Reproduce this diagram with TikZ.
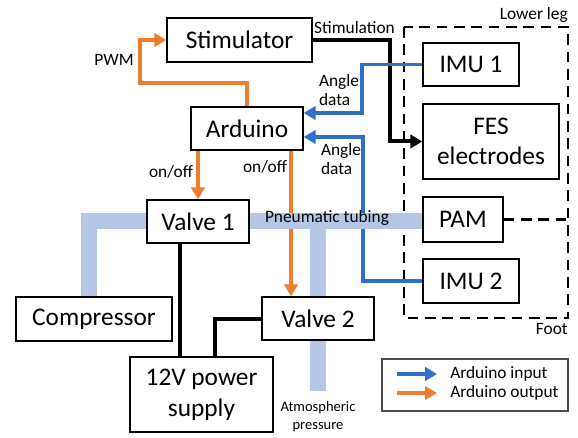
\documentclass[tikz,border=0pt]{standalone}
\usepackage{fontspec}
\setmainfont{Carlito}
\usetikzlibrary{arrows.meta,positioning,calc}
\definecolor{ardorange}{RGB}{237,125,49}
\definecolor{ardblue}{RGB}{47,111,200}
\definecolor{tubeblue}{RGB}{180,199,231}
\newcommand\boxfont{\fontsize{19}{23}\selectfont}
\newcommand\labelfont{\fontsize{13}{14.5}\selectfont}
\newcommand\notefont{\fontsize{10.9}{13.5}\selectfont}

\begin{document}
\begin{tikzpicture}[x=0.75pt,y=-0.75pt,>={Triangle[length=9pt,width=10pt]},
  block/.style={draw,line width=1pt,fill=white,inner sep=0pt,align=center,font=\boxfont},
  dims/.style 2 args={minimum width=#1*0.75pt,minimum height=#2*0.75pt},
  outsig/.style={ardorange,line width=3pt,->},
  insig/.style={ardblue,line width=2.8pt,->},
  wire/.style={black,line width=3pt},
  tube/.style={tubeblue,line width=12pt},
  limb/.style={line width=1.8pt,dash pattern=on 8pt off 5pt},
  lbl/.style={font=\labelfont,align=center,inner sep=0pt}]
  \useasboundingbox (0,0) rectangle (578,438);
  % blocks
  \node[block,dims={145}{44}] (stim) at (239.5,40) {Stimulator};
  \node[block,dims={112}{43}] (ard) at (247,128.5) {Arduino};
  \node[block,dims={102}{43}] (valve1) at (198,221.5) {Valve 1};
  \node[block,dims={156}{44}] (comp) at (94,319) {Compressor};
  \node[block,dims={143}{75}] (psu) at (201.5,394.5) {12V power\\supply};
  \node[block,dims={112}{43}] (valve2) at (318,318.5) {Valve 2};
  \node[block,dims={96}{43}] (imu1) at (471,64.5) {IMU 1};
  \node[block,dims={136}{75}] (fes) at (491,141.5) {FES\\electrodes};
  \node[block,dims={80}{45}] (pam) at (463,219.5) {PAM};
  \node[block,dims={96}{44}] (imu2) at (471,281) {IMU 2};
  % lower leg / foot
  \coordinate (legr) at (568,0);
  \draw[limb] (404,27) rectangle (568,318);
  \draw[limb] (pam.east) -- (pam.east -| legr);
  \node[lbl,anchor=east] (leg) at (568,15) {Lower leg};
  \node[lbl,anchor=east] (foot) at (568,329) {Foot};
  % arduino output
  \coordinate (pwm) at (140,83);
  \draw[outsig] (ard.north) |- (pwm) |- (stim.west);
  \node[lbl] (pwmlbl) at (114,60) {PWM};
  \draw[outsig] (valve1.north |- ard.south) -- (valve1.north);
  \node[lbl] (onoff1) at (171,172) {on/off};
  \coordinate (out2) at (291,0);
  \draw[outsig] (ard.south -| out2) -- (valve2.north -| out2);
  \node[lbl] (onoff2) at (265,167) {on/off};
  % stimulation
  \coordinate (stimx) at (390,0);
  \draw[wire,->] (stim.east) -| (stimx |- fes.west) -- (fes.west);
  \node[lbl] (stimlbl) at (354.5,28) {Stimulation};
  % arduino input
  \coordinate (in1) at (362,113);
  \draw[insig] (imu1.west) -| (in1) -- (in1 -| ard.east);
  \node[lbl,align=left] (angle1) at (339,90) {Angle\\data};
  \coordinate (in2) at (363,137);
  \draw[insig] (imu2.west) -| (in2) -- (in2 -| ard.east);
  \node[lbl,align=left] (angle2) at (341,159) {Angle\\data};
  % power
  \coordinate (pw1) at (180,0);
  \draw[wire] (valve1.south -| pw1) -- (psu.north -| pw1);
  \coordinate (pw2) at (215,0);
  \draw[wire] (valve2.west) -| (pw2 |- psu.north);
  % pneumatic tubing
  \coordinate (tubel) at (89,0);
  \draw[tube] (tubel |- comp.north) |- (valve1.west);
  \draw[tube] (valve1.east) -- (valve1.east -| pam.west);
  \draw[tube] (valve2.north |- valve1.east) -- (valve2.north);
  \coordinate (atmend) at (318,391);
  \draw[tube] (valve2.south) -- (atmend);
  \node[lbl] (tubelbl) at (327,218) {Pneumatic tubing};
  \node[lbl,font=\notefont] (atm) at (318,417) {Atmospheric\\pressure};
  % legend
  \node[draw=black!70,line width=0.8pt,dims={186}{52}] (legend) at (475,385) {};
  \node[lbl,anchor=west] (kin) at (450,374) {Arduino input};
  \node[lbl,anchor=west] (kout) at (450,393) {Arduino output};
  \draw[insig,line width=3.4pt] ([xshift=-39.75pt]kin.west) -- ([xshift=-9.75pt]kin.west);
  \draw[outsig,line width=3.4pt] ([xshift=-39.75pt]kout.west) -- ([xshift=-9.75pt]kout.west);
\end{tikzpicture}
\end{document}
